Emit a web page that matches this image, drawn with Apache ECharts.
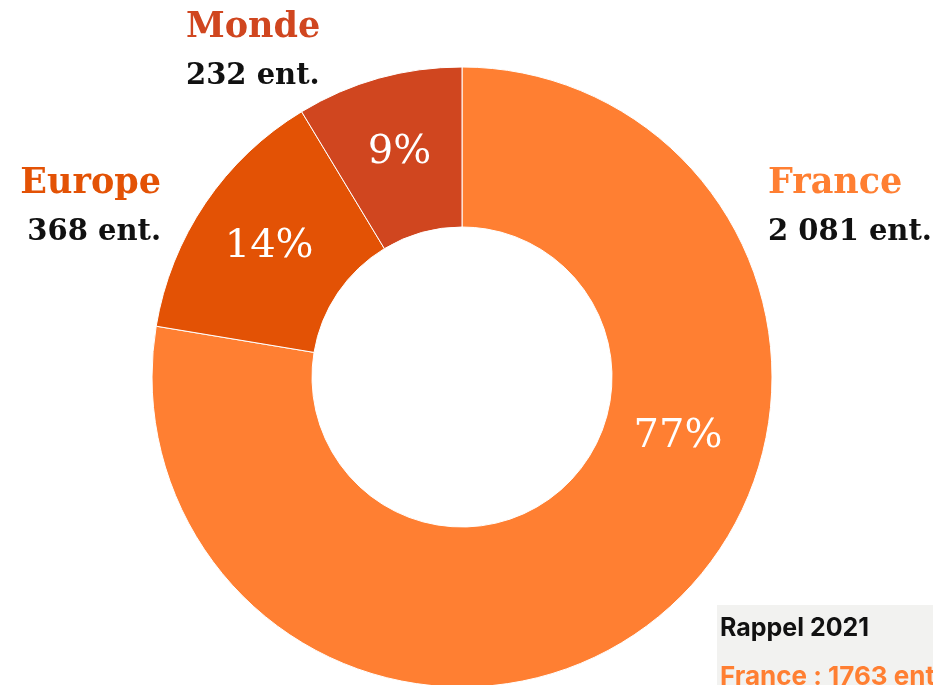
<!DOCTYPE html>
<html>
<head>
<meta charset="utf-8">
<script src="https://cdn.jsdelivr.net/npm/echarts@6/dist/echarts.min.js"></script>
<style>
  html, body { margin: 0; padding: 0; background: #fff; }
  #chart { width: 933px; height: 685px; }
</style>
</head>
<body>
<div id="chart"></div>
<script>
// Entreprises par zone
let regions = ['France', 'Europe', 'Monde'];
let counts = [2081, 368, 232];
let pctLabels = ['77%', '14%', '9%'];
let colors = ['#FF7F32', '#E35205', '#D0461F'];

let rappelTitle = 'Rappel 2021';
let rappelText = 'France : 1763 ent.';

function fmt(n) {
    return String(n).replace(/\B(?=(\d{3})+(?!\d))/g, ' ');
}

let chart = echarts.init(document.getElementById('chart'));

let serif = '"DejaVu Serif", serif';

// outer labels (heading + count), y = vertical middle of the heading
let labelPos = [
    { x: 768, y: 184, align: 'left' },
    { x: 161, y: 184, align: 'right' },
    { x: 186, y: 28, align: 'left' },
];
let graphics = [];
regions.forEach(function (r, i) {
    let p = labelPos[i];
    graphics.push({
        type: 'text', x: p.x, y: p.y, z: 100,
        style: {
            text: r, fill: colors[i], font: 'bold 35px ' + serif,
            align: p.align, verticalAlign: 'middle',
        },
    });
    graphics.push({
        type: 'text', x: p.x, y: p.y + 48, z: 100,
        style: {
            text: fmt(counts[i]) + ' ent.', fill: '#111', font: 'bold 29px ' + serif,
            align: p.align, verticalAlign: 'middle',
        },
    });
});

// France percentage sits off the mid-angle
graphics.push({
    type: 'text', x: 678, y: 437, z: 100,
    style: {
        text: pctLabels[0], fill: '#fff', font: '40px ' + serif,
        align: 'center', verticalAlign: 'middle',
    },
});

// Rappel box
graphics.push({
    type: 'rect', z: 100, shape: { x: 717, y: 605, width: 216, height: 80 },
    style: { fill: '#F2F2F0' },
});
graphics.push({
    type: 'text', x: 720, y: 628, z: 101,
    style: {
        text: rappelTitle, fill: '#111', font: 'bold 25px Inter, sans-serif',
        verticalAlign: 'middle',
    },
});
graphics.push({
    type: 'text', x: 720, y: 677, z: 101,
    style: {
        text: rappelText, fill: '#FF7F32', font: 'bold 26px Inter, sans-serif',
        verticalAlign: 'middle',
    },
});

let option = {
    animation: false,
    color: colors,
    series: [
        {
            type: 'pie',
            center: [462, 377],
            radius: [150, 310],
            startAngle: 90,
            clockwise: true,
            itemStyle: { borderColor: '#fff', borderWidth: 1 },
            label: {
                show: true,
                position: 'inside',
                color: '#fff',
                fontFamily: serif,
                fontSize: 40,
                formatter: function (params) {
                    return pctLabels[params.dataIndex];
                },
            },
            labelLine: { show: false },
            emphasis: { disabled: true },
            data: regions.map(function (r, i) {
                let d = { name: r, value: counts[i] };
                if (i === 0) d.label = { show: false };
                return d;
            }),
        },
    ],
    graphic: graphics,
};

chart.setOption(option);
</script>
</body>
</html>
